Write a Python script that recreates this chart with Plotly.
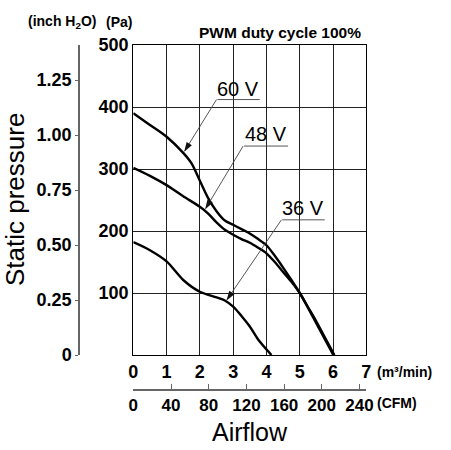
import plotly.graph_objects as go

W, H = 451, 450

# ---- data ----
x_60v = [0, 0.5, 1, 1.5, 1.75, 2, 2.25, 2.5, 2.75, 3, 3.25, 3.5, 3.75, 4, 4.25, 4.5, 4.75, 5, 5.25, 5.5, 5.75, 6.04]
p_60v = [390, 371, 352, 326, 309, 281, 253, 232, 217, 210, 203, 196, 187, 177, 160, 141, 121, 100, 77, 54, 29, 0]

x_48v = [0, 0.5, 1, 1.5, 2, 2.25, 2.5, 2.75, 3, 3.25, 3.5, 3.75, 4, 4.25, 4.5, 4.75, 5, 5.25, 5.5, 5.75, 6.01]
p_48v = [302, 289, 274, 256, 239, 228, 214, 202, 194, 187, 181, 173, 164, 150, 134, 118, 100, 76, 51, 26, 0]

x_36v = [0, 0.5, 1, 1.5, 2, 2.5, 2.75, 3, 3.25, 3.5, 3.75, 4.15]
p_36v = [182, 169, 151, 121, 102, 93, 88, 78, 63, 46, 25, 0]

m3_ticks = [0, 1, 2, 3, 4, 5, 6, 7]
pa_ticks = [100, 200, 300, 400, 500]
cfm_ticks = [0, 40, 80, 120, 160, 200, 240]
inch_ticks = [0, 0.25, 0.5, 0.75, 1.0, 1.25]
inch_labels = ["0", "0.25", "0.50", "0.75", "1.00", "1.25"]

# voltage labels: text, label centre (x, y), underline x-range & y, arrow tip (x, y)
label_text = ["60 V", "48 V", "36 V"]
label_x = [3.15, 3.975, 5.1]
label_y = [429, 356, 237]
under_x0 = [2.5, 3.3, 4.45]
under_x1 = [3.8, 4.65, 5.75]
under_y = [412, 337, 218]
tip_x = [1.53, 2.16, 2.8]
tip_y = [328, 235, 88]

M3_TO_CFM = 35.3147

# ---- layout geometry (pixels) ----
x_left, x_right = 133.3, 366.3
y_top, y_bot = 45, 355

def px(x):
    return x / W

def py(y):
    return 1 - y / H

TICKFONT = dict(family="Liberation Sans, Arial, sans-serif", size=18, color="black", weight="bold")
CFMFONT = dict(family="Liberation Sans, Arial, sans-serif", size=17, color="black", weight="bold")

fig = go.Figure()
for xs, ps in [(x_60v, p_60v), (x_48v, p_48v), (x_36v, p_36v)]:
    fig.add_trace(go.Scatter(x=xs, y=ps, mode="lines",
                             line=dict(color="black", width=2.4, shape="spline", smoothing=0.8),
                             showlegend=False, hoverinfo="skip"))

# underline + leader line with arrowhead
for i in range(len(label_text)):
    fig.add_trace(go.Scatter(
        x=[under_x1[i], under_x0[i], tip_x[i]],
        y=[under_y[i], under_y[i], tip_y[i]],
        mode="lines+markers",
        line=dict(color="#444", width=0.9),
        marker=dict(symbol="arrow", size=[1, 1, 10], angleref="previous", color="#111",
                    opacity=[0, 0, 1], line=dict(width=0)),
        showlegend=False, hoverinfo="skip"))

# empty traces so the secondary axes exist
fig.add_trace(go.Scatter(x=[], y=[], xaxis="x2", yaxis="y", showlegend=False))
fig.add_trace(go.Scatter(x=[], y=[], xaxis="x", yaxis="y2", showlegend=False))

x_dom = [px(x_left), px(x_right)]
y_dom = [py(y_bot), py(y_top)]

fig.update_layout(
    width=W, height=H,
    margin=dict(l=0, r=0, t=0, b=0),
    paper_bgcolor="white", plot_bgcolor="white",
    showlegend=False,
    xaxis=dict(domain=x_dom, range=[0, 7], tickvals=m3_ticks, ticks="", tickangle=0,
               showgrid=True, gridcolor="#222", gridwidth=1, zeroline=False,
               showline=True, mirror=True, linecolor="black", linewidth=1.2,
               tickfont=TICKFONT, automargin=False, fixedrange=True),
    yaxis=dict(domain=y_dom, range=[0, 500], tickvals=pa_ticks, ticks="",
               showgrid=True, gridcolor="#222", gridwidth=1, zeroline=False,
               showline=True, mirror=True, linecolor="black", linewidth=1.2,
               tickfont=TICKFONT, automargin=False, fixedrange=True),
    xaxis2=dict(overlaying="x", anchor="free", position=py(390), side="bottom",
                range=[0, 7 * M3_TO_CFM], tickvals=cfm_ticks, ticks="inside", ticklen=5,
                tickangle=0, tickcolor="#666", showgrid=False, zeroline=False,
                showline=True, linecolor="#666", linewidth=1.5,
                tickfont=CFMFONT, automargin=False, fixedrange=True),
    yaxis2=dict(overlaying="y", anchor="free", position=px(79), side="left",
                range=[0, (y_bot - y_top) / 220.0], tickvals=inch_ticks, ticktext=inch_labels,
                ticks="outside", ticklen=3, tickcolor="#666",
                showgrid=False, zeroline=False,
                showline=True, linecolor="#666", linewidth=1.5,
                tickfont=TICKFONT, automargin=False, fixedrange=True),
)

ann = []
for i, text in enumerate(label_text):
    ann.append(dict(x=label_x[i], y=label_y[i], xref="x", yref="y", text=text, showarrow=False,
                    font=dict(family="Liberation Sans, Arial, sans-serif", size=20, color="black"),
                    xanchor="center", yanchor="middle"))

small = dict(family="Liberation Sans, Arial, sans-serif", size=14, color="black", weight="bold")
ann += [
    dict(x=px(280), y=py(32), xref="paper", yref="paper", text="PWM duty cycle 100%",
         showarrow=False, xanchor="center", yanchor="middle",
         font=dict(family="Liberation Sans, Arial, sans-serif", size=15.5, color="black", weight="bold")),
    dict(x=px(62), y=py(22), xref="paper", yref="paper", text="(inch H<sub>2</sub>O)",
         showarrow=False, xanchor="center", yanchor="middle", font=small),
    dict(x=px(104), y=py(22), xref="paper", yref="paper", text="(Pa)",
         showarrow=False, xanchor="left", yanchor="middle", font=small),
    dict(x=px(375), y=py(372), xref="paper", yref="paper", text="(m³/min)",
         showarrow=False, xanchor="left", yanchor="middle", font=small),
    dict(x=px(375), y=py(403), xref="paper", yref="paper", text="(CFM)",
         showarrow=False, xanchor="left", yanchor="middle", font=small),
    dict(x=px(250), y=py(432), xref="paper", yref="paper", text="Airflow",
         showarrow=False, xanchor="center", yanchor="middle",
         font=dict(family="Liberation Sans, Arial, sans-serif", size=25, color="black")),
    dict(x=px(15), y=py(200), xref="paper", yref="paper", text="Static pressure",
         showarrow=False, xanchor="center", yanchor="middle", textangle=-90,
         font=dict(family="Liberation Sans, Arial, sans-serif", size=26, color="black")),
]
fig.update_layout(annotations=ann)

fig.write_html("out.html")
